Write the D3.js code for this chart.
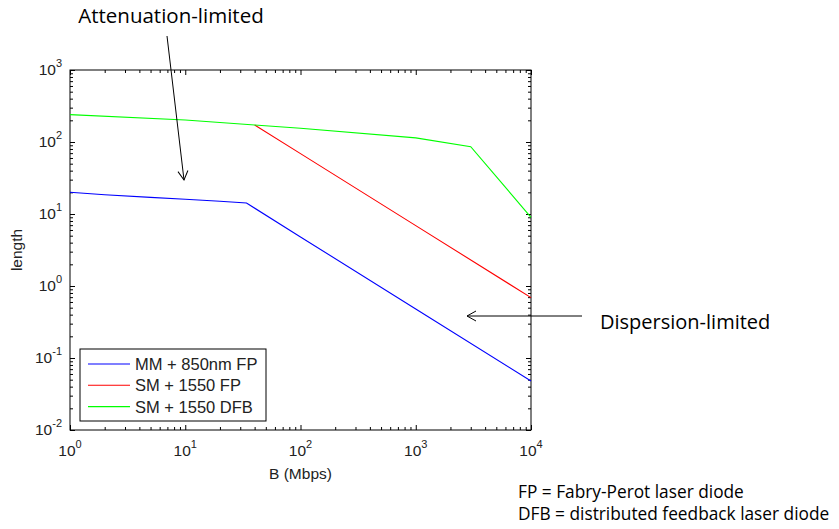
<!DOCTYPE html>
<html>
<head>
<meta charset="utf-8">
<script src="https://cdn.jsdelivr.net/npm/d3@7"></script>
<style>
  body { margin: 0; background: #fff; }
  svg text { font-family: "Liberation Sans", Arial, sans-serif; }
  .note { font-family: "Open Sans", "Liberation Sans", sans-serif; }
</style>
</head>
<body>
<script>
// values (B in Mbps, length in km)
var mmB = [1, 2, 5, 10, 20, 34, 100, 1000, 10000];
var mmLen = [20, 18.5, 17, 16, 15, 14.2, 4.8, 0.48, 0.048];
var fpB = [40, 100, 1000, 10000];
var fpLen = [172, 69, 6.9, 0.69];
var dfbB = [1, 10, 40, 100, 1000, 3000, 10000];
var dfbLen = [240, 202, 172, 155, 114, 86, 9];

var seriesNames = ["MM + 850nm FP", "SM + 1550 FP", "SM + 1550 DFB"];
var seriesColors = ["#0000ff", "#ff0000", "#00ff00"];
var xTickExp = [0, 1, 2, 3, 4];
var yTickExp = [-2, -1, 0, 1, 2, 3];

var width = 839, height = 529;
var margin = {left: 70, top: 70, right: 308, bottom: 99};

var svg = d3.select("body").append("svg")
    .attr("width", width)
    .attr("height", height);

var x = d3.scaleLog().domain([1, 1e4]).range([margin.left, width - margin.right]);
var y = d3.scaleLog().domain([1e-2, 1e3]).range([height - margin.bottom, margin.top]);

var x0 = x.range()[0], x1 = x.range()[1];
var y0 = y.range()[0], y1 = y.range()[1];

// minor tick values per decade
function minorTicks(lo, hi) {
    var t = [];
    for (var e = lo; e < hi; e++) {
        for (var k = 2; k <= 9; k++) t.push(k * Math.pow(10, e));
    }
    return t;
}
var xMajor = xTickExp.map(function (e) { return Math.pow(10, e); });
var yMajor = yTickExp.map(function (e) { return Math.pow(10, e); });

function drawTicks(axisFn, scale, values, size, tx, ty) {
    svg.append("g")
        .attr("transform", "translate(" + tx + "," + ty + ")")
        .call(axisFn(scale).tickValues(values).tickSize(size).tickFormat(""))
        .call(function (g) { g.select(".domain").remove(); })
        .selectAll("line").attr("stroke", "#000");
}

// ticks pointing inward on all four sides
drawTicks(d3.axisTop, x, xMajor, 5, 0, y0);
drawTicks(d3.axisTop, x, minorTicks(0, 4), 3, 0, y0);
drawTicks(d3.axisBottom, x, xMajor, 5, 0, y1);
drawTicks(d3.axisBottom, x, minorTicks(0, 4), 3, 0, y1);
drawTicks(d3.axisRight, y, yMajor, 5, x0, 0);
drawTicks(d3.axisRight, y, minorTicks(-2, 3), 3, x0, 0);
drawTicks(d3.axisLeft, y, yMajor, 5, x1, 0);
drawTicks(d3.axisLeft, y, minorTicks(-2, 3), 3, x1, 0);

svg.append("rect")
    .attr("x", x0).attr("y", y1)
    .attr("width", x1 - x0).attr("height", y0 - y1)
    .attr("fill", "none").attr("stroke", "#000").attr("stroke-width", 1);

// tick labels 10^n
xTickExp.forEach(function (e) {
    var t = svg.append("text")
        .attr("x", x(Math.pow(10, e)))
        .attr("y", y0 + 26)
        .attr("text-anchor", "middle")
        .attr("font-size", 15.5)
        .attr("fill", "#222");
    t.append("tspan").text("10");
    t.append("tspan").attr("dy", -8).attr("font-size", 11).text(e);
});
yTickExp.forEach(function (e) {
    var t = svg.append("text")
        .attr("x", x0 - 8)
        .attr("y", y(Math.pow(10, e)) + 5)
        .attr("text-anchor", "end")
        .attr("font-size", 15.5)
        .attr("fill", "#222");
    t.append("tspan").text("10");
    t.append("tspan").attr("dy", -8).attr("font-size", 11).text(e);
});

svg.append("text")
    .attr("x", (x0 + x1) / 2).attr("y", 479)
    .attr("text-anchor", "middle")
    .attr("font-size", 15.5).attr("fill", "#222")
    .text("B (Mbps)");

svg.append("text")
    .attr("transform", "translate(22," + ((y0 + y1) / 2) + ") rotate(-90)")
    .attr("text-anchor", "middle")
    .attr("font-size", 15.5).attr("fill", "#222")
    .text("length");

// data lines
var line = d3.line()
    .x(function (d) { return x(d[0]); })
    .y(function (d) { return y(d[1]); });

var series = [
    d3.zip(mmB, mmLen),
    d3.zip(fpB, fpLen),
    d3.zip(dfbB, dfbLen)
];

svg.selectAll(".series")
    .data(series)
    .enter()
    .append("path")
    .attr("class", "series")
    .attr("d", line)
    .attr("fill", "none")
    .attr("stroke", function (d, i) { return seriesColors[i]; })
    .attr("stroke-width", 1.1);

// legend
var legend = svg.append("g");
legend.append("rect")
    .attr("x", 80).attr("y", 349)
    .attr("width", 186).attr("height", 72)
    .attr("fill", "#fff").attr("stroke", "#000");
seriesNames.forEach(function (name, i) {
    var ly = 364 + i * 21.3;
    legend.append("line")
        .attr("x1", 88).attr("x2", 130)
        .attr("y1", ly).attr("y2", ly)
        .attr("stroke", seriesColors[i]).attr("stroke-width", 1.1);
    legend.append("text")
        .attr("x", 135).attr("y", ly + 6)
        .attr("font-size", 16.5).attr("fill", "#222")
        .text(name);
});

// annotations
var defs = svg.append("defs");
defs.append("marker")
    .attr("id", "arrow")
    .attr("viewBox", "-10 -6 12 12")
    .attr("refX", 0).attr("refY", 0)
    .attr("markerWidth", 12).attr("markerHeight", 12)
    .attr("markerUnits", "userSpaceOnUse")
    .attr("orient", "auto")
    .append("path")
    .attr("d", "M-9,-5L0,0L-9,5")
    .attr("fill", "none").attr("stroke", "#000").attr("stroke-width", 1);

svg.append("line")
    .attr("x1", 167).attr("y1", 36)
    .attr("x2", 184).attr("y2", 180)
    .attr("stroke", "#000").attr("stroke-width", 1)
    .attr("marker-end", "url(#arrow)");
svg.append("text")
    .attr("class", "note")
    .attr("x", 171).attr("y", 23)
    .attr("text-anchor", "middle")
    .attr("font-size", 20.5)
    .text("Attenuation-limited");

svg.append("line")
    .attr("x1", 582).attr("y1", 316)
    .attr("x2", 467).attr("y2", 316)
    .attr("stroke", "#000").attr("stroke-width", 1)
    .attr("marker-end", "url(#arrow)");
svg.append("text")
    .attr("class", "note")
    .attr("x", 600).attr("y", 329)
    .attr("font-size", 20)
    .text("Dispersion-limited");

svg.append("text")
    .attr("class", "note")
    .attr("x", 518).attr("y", 498)
    .attr("font-size", 17.3)
    .text("FP = Fabry-Perot laser diode");
svg.append("text")
    .attr("class", "note")
    .attr("x", 518).attr("y", 520)
    .attr("font-size", 17.3)
    .text("DFB = distributed feedback laser diode");
</script>
</body>
</html>
